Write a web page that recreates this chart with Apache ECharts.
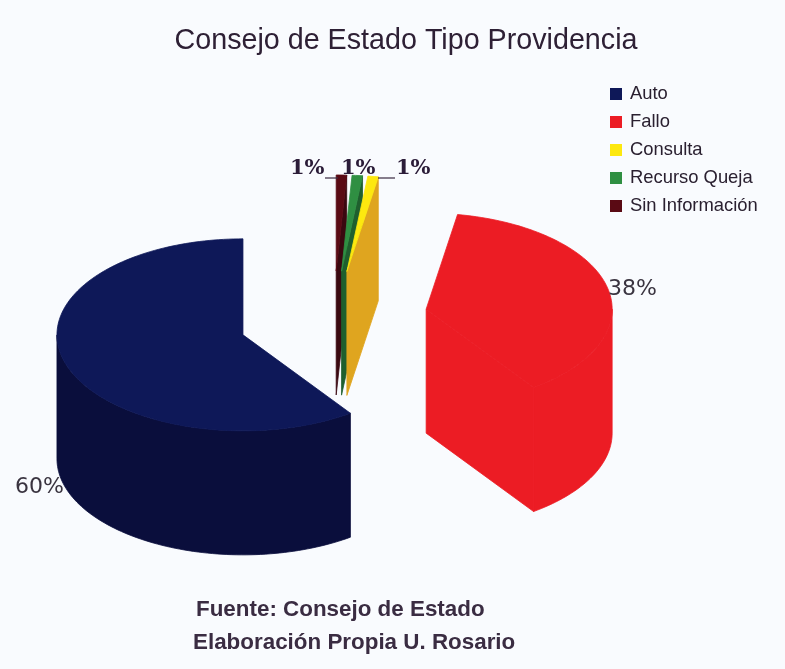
<!DOCTYPE html>
<html><head><meta charset="utf-8">
<script src="https://cdn.jsdelivr.net/npm/echarts@6/dist/echarts.min.js"></script>
<style>html,body{margin:0;padding:0;background:#f9fbfe}#c{width:785px;height:669px}</style>
</head><body><div id="c"></div>
<script>
const categories = ['Auto', 'Fallo', 'Consulta', 'Recurso Queja', 'Sin Información'];
const shares = [59.8, 37.5, 0.9, 0.9, 0.9];
const topColors = ['#0e1858', '#ec1c24', '#fde80f', '#2f8f42', '#5a0a14'];
const wallColors = ['#0a0e3c', '#ec1c24', '#dfa51f', '#1f5f2e', '#3a0810'];
const drawOrder = [0, 1, 4, 3, 2];
const labelPlace = [
  {x: 15, y: 487, font: '22px "DejaVu Sans"', fill: '#3a3440'},
  {x: 608, y: 289, font: '22px "DejaVu Sans"', fill: '#3a3440'},
  {x: 396, y: 169, font: 'bold 21px "DejaVu Serif"', fill: '#2b1c38', lead: [378, 395]},
  {x: 341, y: 169, font: 'bold 21px "DejaVu Serif"', fill: '#2b1c38'},
  {x: 290, y: 169, font: 'bold 21px "DejaVu Serif"', fill: '#2b1c38', lead: [325, 338]}
];
const pieGeom = {cx: 333.5, cy: 320, rx: 186, ry: 96, depth: 124, explode: 95};

const total = shares.reduce((a, b) => a + b, 0);
const rad = d => d * Math.PI / 180;

function sliceItem(i) {
  return function (params, api) {
    const g = pieGeom;
    const value = api.value(0);
    const before = shares.slice(0, i).reduce((a, b) => a + b, 0);
    const hi = 360 - before / total * 360;
    const lo = hi - value / total * 360;
    const mid = rad((lo + hi) / 2);
    const ox = g.cx + g.explode * Math.sin(mid);
    const oy = g.cy - g.explode * (g.ry / g.rx) * Math.cos(mid);
    const pt = (deg, dz) => [ox + g.rx * Math.sin(rad(deg)), oy - g.ry * Math.cos(rad(deg)) + (dz || 0)];
    const arc = (a, b, dz) => {
      const out = [], n = Math.max(2, Math.ceil((b - a) / 1.5));
      for (let k = 0; k <= n; k++) out.push(pt(a + (b - a) * k / n, dz));
      return out;
    };
    const poly = (points, fill) => ({
      type: 'polygon', shape: {points},
      style: {fill, stroke: fill, lineWidth: 0.8}
    });
    const children = [];
    const apex = [ox, oy], apexLow = [ox, oy + g.depth];
    if (Math.sin(rad(lo)) < -1e-6) children.push(poly([apex, pt(lo), pt(lo, g.depth), apexLow], wallColors[i]));
    if (Math.sin(rad(hi)) > 1e-6) children.push(poly([apex, pt(hi), pt(hi, g.depth), apexLow], wallColors[i]));
    const a = Math.max(lo, 90), b = Math.min(hi, 270);
    if (b > a) children.push(poly(arc(a, b, 0).concat(arc(a, b, g.depth).reverse()), wallColors[i]));
    children.push(poly([apex].concat(arc(lo, hi, 0)), topColors[i]));
    const lp = labelPlace[i];
    if (lp.lead) children.push({
      type: 'line', shape: {x1: lp.lead[0], y1: 178, x2: lp.lead[1], y2: 178},
      style: {stroke: '#3a2a40', lineWidth: 1.2}
    });
    children.push({
      type: 'text', z2: 5,
      style: {x: lp.x, y: lp.y, text: Math.round(value) + '%', font: lp.font, fill: lp.fill, textAlign: 'left', textVerticalAlign: 'middle'}
    });
    return {type: 'group', children};
  };
}

const chart = echarts.init(document.getElementById('c'));
chart.setOption({
  animation: false,
  backgroundColor: '#f9fbfe',
  title: [
    {text: 'Consejo de Estado Tipo Providencia', left: 401, top: 22, textAlign: 'center',
     textStyle: {fontFamily: '"Liberation Sans"', fontSize: 28.7, fontWeight: 'normal', color: '#2e2035'}},
    {text: 'Fuente: Consejo de Estado', left: 191, top: 594,
     textStyle: {fontFamily: '"Liberation Sans"', fontSize: 22.4, fontWeight: 'bold', color: '#3a2c42'}},
    {text: 'Elaboración Propia U. Rosario', left: 188, top: 627,
     textStyle: {fontFamily: '"Liberation Sans"', fontSize: 22.4, fontWeight: 'bold', color: '#3a2c42'}}
  ],
  legend: {
    data: categories, orient: 'vertical', left: 605, top: 80, icon: 'rect',
    itemWidth: 12, itemHeight: 12, itemGap: 10, selectedMode: false,
    textStyle: {fontFamily: '"Liberation Sans"', fontSize: 18.4, color: '#2a2030', lineHeight: 18, padding: [0, 0, 0, 3]}
  },
  series: categories.map((name, i) => ({
    type: 'custom', name, coordinateSystem: 'none', silent: true,
    z: 2 + drawOrder.indexOf(i),
    itemStyle: {color: topColors[i]},
    data: [[shares[i]]],
    renderItem: sliceItem(i)
  }))
});
</script></body></html>
